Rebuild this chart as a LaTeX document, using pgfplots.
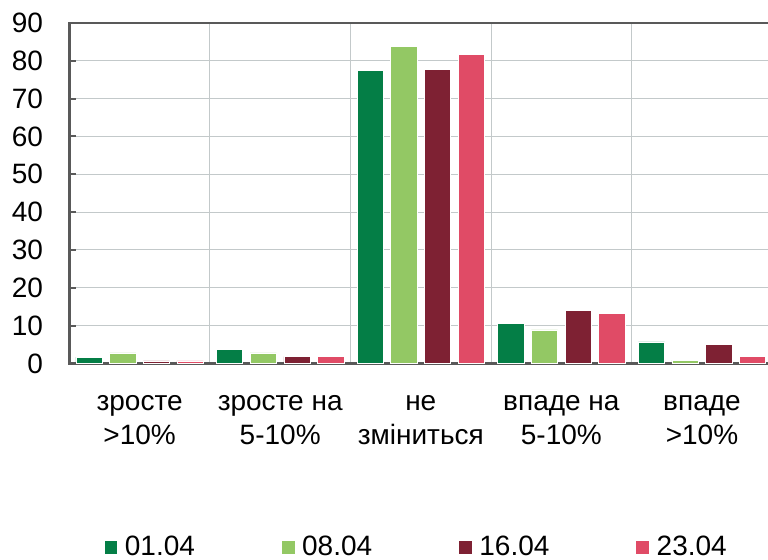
\documentclass[border=0pt]{standalone}
\usepackage{fontspec}
\setmainfont{Liberation Sans}
\usepackage{pgfplots}
\pgfplotsset{compat=1.18}

\definecolor{cA}{HTML}{047E46}
\definecolor{cB}{HTML}{93C864}
\definecolor{cC}{HTML}{7E2133}
\definecolor{cD}{HTML}{E04B66}
\definecolor{axgray}{HTML}{595959}
\definecolor{gridgray}{HTML}{C3C9CA}

\begin{document}
\begin{tikzpicture}
\useasboundingbox (0,0) rectangle (384pt,280pt);
\clip (0,0) rectangle (384pt,280pt);
\begin{axis}[
  at={(34.65pt,98.25pt)}, anchor=south west,
  scale only axis, width=351.5pt, height=170.25pt,
  xmin=-0.5, xmax=4.5, ymin=0, ymax=90,
  ybar=3.7pt, bar width=13.15pt,
  ytick={0,10,...,90},
  xtick={0,1,2,3,4},
  xticklabels={{зросте\\>10\%},{зросте на\\5-10\%},{не\\зміниться},{впаде на\\5-10\%},{впаде\\>10\%}},
  minor xtick={0.5,1.5,2.5,3.5},
  ymajorgrids, xminorgrids,
  grid style={draw=gridgray, line width=0.5pt},
  minor grid style={draw=gridgray, line width=0.5pt},
  axis line style={draw=axgray, line width=1.3pt},
  tick pos=left,
  tick align=inside,
  xtick style={draw=none},
  ytick style={draw=axgray, line width=1pt},
  major tick length=3.3pt,
  minor tick length=0pt,
  /pgf/number format/assume math mode=true,
  every tick label/.append style={font=\fontsize{14}{17}\selectfont},
  yticklabel style={inner sep=0pt, xshift=-13pt},
  xticklabel style={align=center, inner sep=0pt, anchor=north, yshift=-15.75pt},
  legend columns=4,
  legend style={at={(0.492,-0.539)}, anchor=center, draw=none, fill=none,
    font=\fontsize{14}{17}\selectfont, nodes={inner sep=0pt}, column sep=0pt,
    /tikz/every odd column/.append style={column sep=3.5pt},
    /tikz/every even column/.append style={column sep=42.95pt}},
  every axis plot/.append style={legend image code/.code={\fill[#1] (0pt,-3.4pt) rectangle (6.85pt,3.4pt);}},
]
\addplot[fill=cA, draw=white, line width=0.3pt] coordinates {(0,1.7) (1,3.8) (2,77.4) (3,10.5) (4,5.7)};
\addplot[fill=cB, draw=white, line width=0.3pt] coordinates {(0,2.8) (1,2.8) (2,83.8) (3,8.9) (4,0.9)};
\addplot[fill=cC, draw=white, line width=0.3pt] coordinates {(0,0.7) (1,1.8) (2,77.7) (3,14.0) (4,5.0)};
\addplot[fill=cD, draw=white, line width=0.3pt] coordinates {(0,0.7) (1,1.8) (2,81.6) (3,13.2) (4,1.9)};
\legend{01.04,08.04,16.04,23.04}
\end{axis}
\end{tikzpicture}
\end{document}
